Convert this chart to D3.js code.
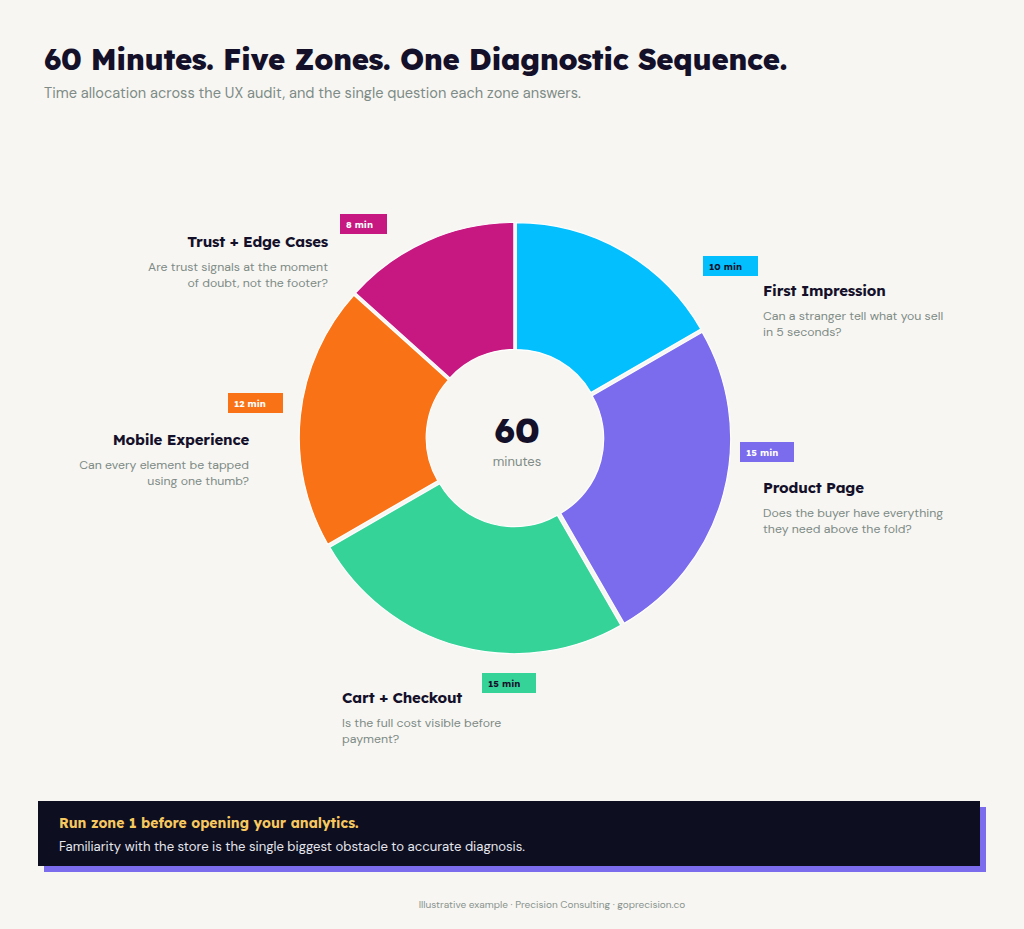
<!DOCTYPE html>
<html>
<head>
<meta charset="utf-8">
<script src="https://cdn.jsdelivr.net/npm/d3@7"></script>
<style>
  html, body { margin: 0; padding: 0; background: #f7f6f2; }
  svg { display: block; }
</style>
</head>
<body>
<svg id="chart" width="1024" height="929"></svg>
<script>
// ---- data ----
const zones = ["First Impression", "Product Page", "Cart + Checkout", "Mobile Experience", "Trust + Edge Cases"];
const minutes = [10, 15, 15, 12, 8];
const zoneColors = ["#03bffd", "#7b6bed", "#36d399", "#f97316", "#c71781"];
const badgeTextColors = ["#14102a", "#ffffff", "#14102a", "#ffffff", "#ffffff"];
const questions = [
  ["Can a stranger tell what you sell", "in 5 seconds?"],
  ["Does the buyer have everything", "they need above the fold?"],
  ["Is the full cost visible before", "payment?"],
  ["Can every element be tapped", "using one thumb?"],
  ["Are trust signals at the moment", "of doubt, not the footer?"]
];
const totalLabel = "60";
const totalUnit = "minutes";
const titleText = "60 Minutes. Five Zones. One Diagnostic Sequence.";
const subtitleText = "Time allocation across the UX audit, and the single question each zone answers.";
const calloutHead = "Run zone 1 before opening your analytics.";
const calloutBody = "Familiarity with the store is the single biggest obstacle to accurate diagnosis.";
const footerText = "Illustrative example \u00b7 Precision Consulting \u00b7 goprecision.co";

// ---- layout (annotation placement) ----
const labelLayout = [
  { bx: 703, by: 256, bw: 55, tx: 763, ty: 296, anchor: "start" },
  { bx: 740, by: 442, bw: 54, tx: 763, ty: 493, anchor: "start" },
  { bx: 482, by: 673, bw: 54, tx: 342, ty: 703, anchor: "start" },
  { bx: 228, by: 393, bw: 55, tx: 249, ty: 445, anchor: "end" },
  { bx: 340, by: 214, bw: 47, tx: 328, ty: 247, anchor: "end" }
];

const headFont = "Lexend, Outfit, Inter, 'DejaVu Sans', sans-serif";
const bodyFont = "'DM Sans', Inter, 'Noto Sans', sans-serif";
const ink = "#14102a";
const muted = "#7e8b86";

const svg = d3.select("#chart");
svg.append("rect").attr("width", 1024).attr("height", 929).attr("fill", "#f7f6f2");

function fit(sel, target) {
  const w = sel.node().getComputedTextLength();
  const fs = parseFloat(sel.attr("font-size"));
  sel.attr("font-size", (fs * target / w).toFixed(2));
}

// title
const t = svg.append("text").attr("x", 44).attr("y", 70)
  .attr("font-family", headFont).attr("font-weight", 800).attr("font-size", 30)
  .attr("fill", ink).attr("letter-spacing", -0.4).text(titleText);
fit(t, 744);
const st = svg.append("text").attr("x", 44).attr("y", 98)
  .attr("font-family", bodyFont).attr("font-size", 14)
  .attr("fill", muted).text(subtitleText);
fit(st, 537);

// donut
const cx = 515, cy = 438, rOuter = 213, rInner = 86, explode = 2.8;
const pie = d3.pie().sort(null).value(d => d)(minutes);
const arc = d3.arc().innerRadius(rInner).outerRadius(rOuter);
const g = svg.append("g").attr("transform", `translate(${cx},${cy})`);
g.selectAll("path").data(pie).join("path")
  .attr("d", arc)
  .attr("fill", (d, i) => zoneColors[i])
  .attr("stroke", "#ffffff").attr("stroke-width", 1.2)
  .attr("transform", d => {
    const a = (d.startAngle + d.endAngle) / 2;
    return `translate(${explode * Math.sin(a)},${-explode * Math.cos(a)})`;
  });

g.append("text").attr("x", 2).attr("y", 5).attr("text-anchor", "middle")
  .attr("font-family", headFont).attr("font-weight", 800).attr("font-size", 35)
  .attr("fill", ink).text(totalLabel);
g.append("text").attr("x", 2).attr("y", 28).attr("text-anchor", "middle")
  .attr("font-family", bodyFont).attr("font-size", 13)
  .attr("fill", muted).text(totalUnit);

// labels
zones.forEach((z, i) => {
  const L = labelLayout[i];
  svg.append("rect").attr("x", L.bx).attr("y", L.by).attr("width", L.bw).attr("height", 20)
    .attr("fill", zoneColors[i]);
  svg.append("text").attr("x", L.bx + 6).attr("y", L.by + 13.5)
    .attr("font-family", headFont).attr("font-weight", 700).attr("font-size", 9.5)
    .attr("fill", badgeTextColors[i]).text(minutes[i] + " min");
  svg.append("text").attr("x", L.tx).attr("y", L.ty).attr("text-anchor", L.anchor)
    .attr("font-family", headFont).attr("font-weight", 700).attr("font-size", 15)
    .attr("fill", ink).attr("letter-spacing", -0.2).text(z);
  questions[i].forEach((line, j) => {
    svg.append("text").attr("x", L.tx).attr("y", L.ty + 24 + j * 16).attr("text-anchor", L.anchor)
      .attr("font-family", bodyFont).attr("font-size", 12.3)
      .attr("fill", muted).text(line);
  });
});

// callout
svg.append("rect").attr("x", 44).attr("y", 807).attr("width", 942).attr("height", 65).attr("fill", "#7b6bed");
svg.append("rect").attr("x", 38).attr("y", 801).attr("width", 942).attr("height", 65).attr("fill", "#0d0e1f");
const ch = svg.append("text").attr("x", 59).attr("y", 828)
  .attr("font-family", headFont).attr("font-weight", 700).attr("font-size", 14.5)
  .attr("fill", "#f6c85f").text(calloutHead);
fit(ch, 300);
const cb = svg.append("text").attr("x", 59).attr("y", 851)
  .attr("font-family", bodyFont).attr("font-size", 13.5)
  .attr("fill", "#e6e6ee").text(calloutBody);
fit(cb, 466);

// footer
const ft = svg.append("text").attr("x", 552).attr("y", 908).attr("text-anchor", "middle")
  .attr("font-family", bodyFont).attr("font-size", 9.5)
  .attr("fill", "#8a948f").text(footerText);
fit(ft, 267);
</script>
</body>
</html>
